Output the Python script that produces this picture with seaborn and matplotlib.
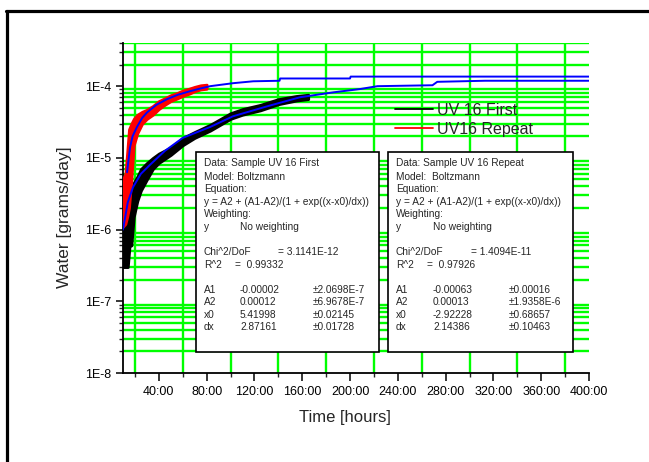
import numpy as np
import matplotlib
matplotlib.use('Agg')
import matplotlib.pyplot as plt
import seaborn as sns
from matplotlib.lines import Line2D
from matplotlib.patches import Rectangle
from matplotlib.ticker import FixedLocator, LogLocator, FuncFormatter, NullFormatter

# ------------------------------------------------------------
# data
# measured series: hours, lower / upper edge of the noisy band
# ------------------------------------------------------------
first_hours = [10, 12, 14, 15.5, 17, 19, 22, 25, 30, 35, 40, 50, 60, 70, 83,
               100, 110, 125, 140, 155, 165]
first_low = [3e-7, 3e-7, 3e-7, 6e-7, 6e-7, 1.5e-6, 2.5e-6, 3.5e-6, 5e-6, 7e-6,
             8.5e-6, 1.1e-5, 1.5e-5, 1.9e-5, 2.4e-5, 3.5e-5, 4.0e-5, 4.6e-5,
             5.6e-5, 6.3e-5, 6.6e-5]
first_high = [1.0e-6, 1.5e-6, 1.5e-6, 1.6e-6, 3.5e-6, 4.5e-6, 5.5e-6, 7e-6,
              8.5e-6, 1.0e-5, 1.15e-5, 1.4e-5, 1.9e-5, 2.3e-5, 2.9e-5, 4.2e-5,
              4.8e-5, 5.5e-5, 6.6e-5, 7.3e-5, 7.6e-5]

repeat_hours = [10, 12, 13.5, 15, 17, 19, 22, 26, 30, 35, 40, 45, 50, 55, 60,
                65, 70, 75, 80]
repeat_low = [1.1e-6, 1.2e-6, 1.5e-6, 2e-6, 5e-6, 1.5e-5, 2.2e-5, 3e-5, 3.5e-5,
              4e-5, 4.8e-5, 5.5e-5, 6.2e-5, 6.7e-5, 7.3e-5, 7.8e-5, 8.5e-5,
              9e-5, 9.2e-5]
repeat_high = [5e-6, 6e-6, 1.2e-5, 2.5e-5, 3e-5, 3.5e-5, 4e-5, 4.4e-5, 4.7e-5,
               5.3e-5, 6.2e-5, 6.8e-5, 7.5e-5, 8e-5, 8.7e-5, 9.2e-5, 9.8e-5,
               1.03e-4, 1.05e-4]

# Boltzmann fit curves (blue)
fit_first_hours = [10, 14, 18.4, 25, 32.6, 45, 60, 83, 102, 130, 158, 186, 208,
                   223, 269, 273, 313, 400]
fit_first_vals = [1.0e-6, 2.4e-6, 3.9e-6, 6e-6, 8e-6, 1.25e-5, 1.9e-5, 2.7e-5,
                  3.8e-5, 5.2e-5, 7e-5, 8.2e-5, 9.1e-5, 1.0e-4, 1.03e-4, 1.15e-4,
                  1.19e-4, 1.19e-4]
fit_repeat_hours = [13.4, 14.5, 15.9, 18, 21.7, 26, 30.1, 38, 46.9, 56, 66, 75,
                    83, 102, 119, 141, 141.5, 200, 200.5, 400]
fit_repeat_vals = [6.3e-6, 9e-6, 1.4e-5, 2.0e-5, 2.7e-5, 3.6e-5, 4.3e-5, 5.5e-5,
                   6.6e-5, 7.6e-5, 8.5e-5, 9.3e-5, 1.0e-4, 1.1e-4, 1.17e-4,
                   1.19e-4, 1.28e-4, 1.28e-4, 1.36e-4, 1.36e-4]

series_labels = ['UV 16 First', 'UV16 Repeat']
x_major = [40, 80, 120, 160, 200, 240, 280, 320, 360, 400]
x_minor = [20, 60, 100, 140, 180, 220, 260, 300, 340, 380]

# fit report texts
first_name = 'Sample UV 16 First'
repeat_name = 'Sample UV 16 Repeat'
param_names = ['A1', 'A2', 'x0', 'dx']
first_vals = ['-0.00002', '0.00012', '5.41998', '2.87161']
first_errs = ['\u00b12.0698E-7', '\u00b16.9678E-7', '\u00b10.02145', '\u00b10.01728']
repeat_vals = ['-0.00063', '0.00013', '-2.92228', '2.14386']
repeat_errs = ['\u00b10.00016', '\u00b11.9358E-6', '\u00b10.68657', '\u00b10.10463']
first_chi, first_r2 = '3.1141E-12', '0.99332'
repeat_chi, repeat_r2 = '1.4094E-11', '0.97926'

# ------------------------------------------------------------
sns.set_style('ticks')
plt.rcParams['font.family'] = ['Liberation Sans', 'DejaVu Sans']

W, H = 649, 462
fig = plt.figure(figsize=(W / 100, H / 100), dpi=100)


def fx(px):
    return px / W


def fy(py):
    return 1 - py / H


ax = fig.add_axes([fx(123), fy(373), fx(589) - fx(123), fy(43) - fy(373)])
ax.set_facecolor('none')

# measured bands
ax.fill_between(first_hours, first_low, first_high, color='black', lw=2, zorder=3)
ax.fill_between(repeat_hours, repeat_low, repeat_high, color='red', lw=2, zorder=3)

# fits
sns.lineplot(x=fit_first_hours, y=fit_first_vals, color='#0000ff', lw=1.4,
             ax=ax, zorder=4, estimator=None, sort=False)
sns.lineplot(x=fit_repeat_hours, y=fit_repeat_vals, color='#0000ff', lw=1.4,
             ax=ax, zorder=4, estimator=None, sort=False)

ax.set_yscale('log')
ax.set_ylim(1e-8, 4e-4)
ax.set_xlim(10, 400)

ax.xaxis.set_major_locator(FixedLocator(x_major))
ax.xaxis.set_minor_locator(FixedLocator(x_minor))
ax.xaxis.set_major_formatter(FuncFormatter(lambda v, p: f'{int(v)}:00'))
ax.yaxis.set_major_locator(LogLocator(base=10, numticks=20))
ax.yaxis.set_minor_locator(LogLocator(base=10, subs=range(2, 10), numticks=20))
ax.yaxis.set_major_formatter(FuncFormatter(lambda v, p: f'1E{int(round(np.log10(v)))}'))
ax.yaxis.set_minor_formatter(NullFormatter())

ax.grid(False, which='major')
ax.grid(True, which='minor', color='#00ff00', lw=1.7, zorder=1)
ax.set_axisbelow(True)

ax.tick_params(which='major', direction='out', length=5, width=1.1,
               labelsize=9, pad=3.5, colors='black')
ax.tick_params(which='minor', direction='out', length=3, width=1.0)
ax.tick_params(axis='x', which='major', length=6)

for s in ['top', 'right']:
    ax.spines[s].set_visible(False)
for s in ['left', 'bottom']:
    ax.spines[s].set_linewidth(1.3)
    ax.spines[s].set_color('black')

ax.set_xlabel('Time [hours]', fontsize=12)
ax.set_ylabel('Water [grams/day]', fontsize=12.5)
ax.xaxis.set_label_coords(0.476, -0.112)
ax.yaxis.set_label_coords(-0.11, 0.473)

handles = [Line2D([], [], color='black', lw=1.3), Line2D([], [], color='red', lw=1.3)]
ax.legend(handles, series_labels, loc='upper left', bbox_to_anchor=(fx(395), fy(103)),
          bbox_transform=fig.transFigure, frameon=False, fontsize=11.5,
          handlelength=2.4, handletextpad=0.2, labelspacing=0.25,
          borderpad=0, borderaxespad=0)


def fit_box(x0, x1, col1, col2, eq_x, r2_x, name, model, chi, r2, vals, errs):
    fig.add_artist(Rectangle((fx(x0), fy(352)), fx(x1) - fx(x0), fy(152) - fy(352),
                             transform=fig.transFigure, facecolor='white',
                             edgecolor='black', lw=1.2, zorder=5))
    left = x0 + 8
    kw = dict(fontsize=7.3, va='center', ha='left', zorder=6)
    rows = [(163, 'Data: ' + name), (177, model), (189, 'Equation:'),
            (202, 'y = A2 + (A1-A2)/(1 + exp((x-x0)/dx))'), (214, 'Weighting:')]
    for py, t in rows:
        fig.text(fx(left), fy(py), t, **kw)
    fig.text(fx(left), fy(227), 'y', **kw)
    fig.text(fx(col1), fy(227), 'No weighting', **kw)
    fig.text(fx(left), fy(252), 'Chi^2/DoF', **kw)
    fig.text(fx(eq_x), fy(252), '= ' + chi, **kw)
    fig.text(fx(left), fy(265), 'R^2', **kw)
    fig.text(fx(r2_x), fy(265), '=  ' + r2, **kw)
    for i, (n, v, e) in enumerate(zip(param_names, vals, errs)):
        py = 290 + i * 12.3
        fig.text(fx(left), fy(py), n, **kw)
        fig.text(fx(col1), fy(py), v, **kw)
        fig.text(fx(col2), fy(py), e, **kw)


fit_box(196, 379, 240, 313, 278, 235, first_name, 'Model: Boltzmann',
        first_chi, first_r2, first_vals, first_errs)
fit_box(388, 573, 433, 509, 471, 427, repeat_name, 'Model:  Boltzmann',
        repeat_chi, repeat_r2, repeat_vals, repeat_errs)

# outer frame (only left and top edges fall inside the picture)
fig.add_artist(Line2D([fx(6.5), fx(6.5)], [fy(11), 0], color='black', lw=2.3,
                      transform=fig.transFigure))
fig.add_artist(Line2D([fx(5.5), 1], [fy(11), fy(11)], color='black', lw=2.3,
                      transform=fig.transFigure))

fig.savefig('out.png', dpi=100)
